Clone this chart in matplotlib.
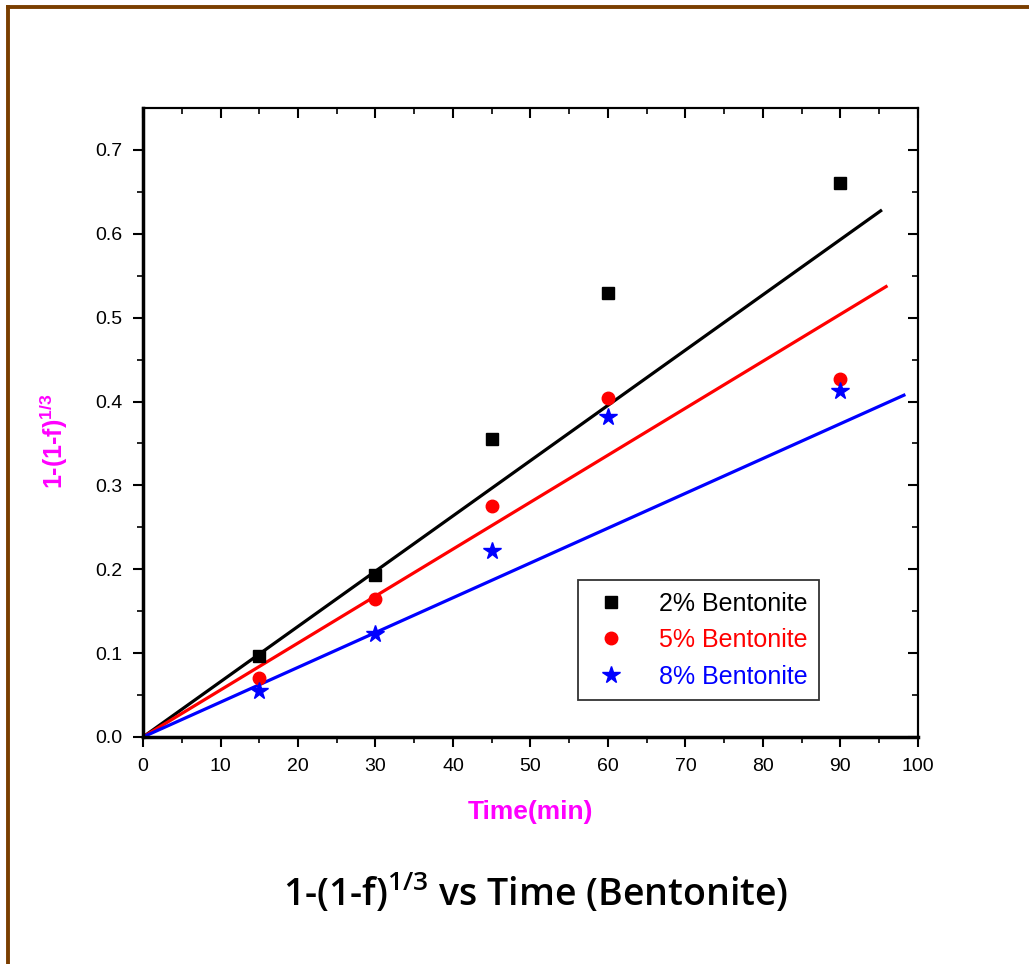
import matplotlib.pyplot as plt
from matplotlib.lines import Line2D
import numpy as np

time_min = [15, 30, 45, 60, 90]
y_2pct = [0.097, 0.193, 0.355, 0.529, 0.660]
y_5pct = [0.070, 0.165, 0.275, 0.404, 0.427]
y_8pct = [0.055, 0.123, 0.222, 0.382, 0.412]

labels = ['2% Bentonite', '5% Bentonite', '8% Bentonite']
colors = ['black', '#ff0000', '#0000ff']
markers = ['s', 'o', '*']
msizes = [9, 9, 13]

# linear fits through origin (slope, x where fitted line stops)
fit_slope = [0.00659, 0.0056, 0.00415]
fit_end = [95.2, 95.9, 98.2]

plt.rcParams['font.family'] = ['Liberation Sans', 'DejaVu Sans']
plt.rcParams['mathtext.default'] = 'regular'

fig = plt.figure(figsize=(10.29, 9.64), dpi=100)
ax = fig.add_axes([0.139, 0.2355, 0.753, 0.6525])

series = [y_2pct, y_5pct, y_8pct]
handles = []
for i, ys in enumerate(series):
    xs = np.array([0, fit_end[i]])
    ax.plot(xs, fit_slope[i] * xs, color=colors[i], lw=2.3, zorder=2)
    h, = ax.plot(time_min, ys, ls='none', marker=markers[i], ms=msizes[i],
                 color=colors[i], zorder=3)
    handles.append(h)

ax.set_xlim(0, 100)
ax.set_ylim(0, 0.75)
ax.set_xticks(np.arange(0, 101, 10))
ax.set_xticks(np.arange(5, 100, 10), minor=True)
ax.set_yticks(np.arange(0, 0.71, 0.1))
ax.set_yticks(np.arange(0.05, 0.75, 0.1), minor=True)
ax.set_yticklabels(['%.1f' % v for v in np.arange(0, 0.71, 0.1)])

ax.tick_params(which='major', length=7, width=1.5, labelsize=14, pad=8)
ax.tick_params(which='minor', length=4, width=1.2)
ax.tick_params(which='both', direction='out', top=False, right=False)
# mirrored ticks pointing inward on top/right
sec_x = ax.secondary_xaxis('top')
sec_x.set_xticks(np.arange(0, 101, 10))
sec_x.set_xticks(np.arange(5, 100, 10), minor=True)
sec_x.tick_params(which='major', direction='in', length=7, width=1.5, labeltop=False)
sec_x.tick_params(which='minor', direction='in', length=4, width=1.2)
sec_x.spines['top'].set_linewidth(1.5)
sec_y = ax.secondary_yaxis('right')
sec_y.set_yticks(np.arange(0, 0.71, 0.1))
sec_y.set_yticks(np.arange(0.05, 0.75, 0.1), minor=True)
sec_y.tick_params(which='major', direction='in', length=7, width=1.5, labelright=False)
sec_y.tick_params(which='minor', direction='in', length=4, width=1.2)
sec_y.spines['right'].set_linewidth(1.5)

ax.spines['left'].set_linewidth(2.5)
ax.spines['bottom'].set_linewidth(2.5)
ax.spines['top'].set_linewidth(1.5)
ax.spines['right'].set_linewidth(1.5)

ax.set_xlabel('Time(min)', color='#ff00ff', fontsize=19, fontweight='bold',
              family=['Liberation Sans Narrow', 'Liberation Sans'], labelpad=18)
ax.set_ylabel(r'1-(1-f)$^{1/3}$', color='#ff00ff', fontsize=18,
              fontweight='bold', family=['Liberation Sans Narrow', 'Liberation Sans'])
ax.yaxis.set_label_coords(-0.094, 0.47)

leg = ax.legend(handles, labels, loc='lower left', bbox_to_anchor=(0.561, 0.059),
                fontsize=18, frameon=True, fancybox=False, edgecolor='black',
                handletextpad=1.0, handlelength=1.8, borderpad=0.45,
                labelspacing=0.5, borderaxespad=0)
leg.get_frame().set_linewidth(1.3)
for txt, c in zip(leg.get_texts(), colors):
    txt.set_color(c)

fig.text(0.521, 0.073, r'1-(1-f)$^{1/3}$ vs Time (Bentonite)', ha='center', va='center',
         fontsize=27, fontweight='semibold', family=['Open Sans', 'DejaVu Sans'])

# brown page frame
brown = '#7a3e00'
fig.add_artist(Line2D([0.008, 1.0], [0.9925, 0.9925], color=brown, lw=2.8,
                      transform=fig.transFigure))
fig.add_artist(Line2D([0.008, 0.008], [0.0, 0.9925], color=brown, lw=2.8,
                      transform=fig.transFigure))

fig.savefig('out.png', dpi=100)
